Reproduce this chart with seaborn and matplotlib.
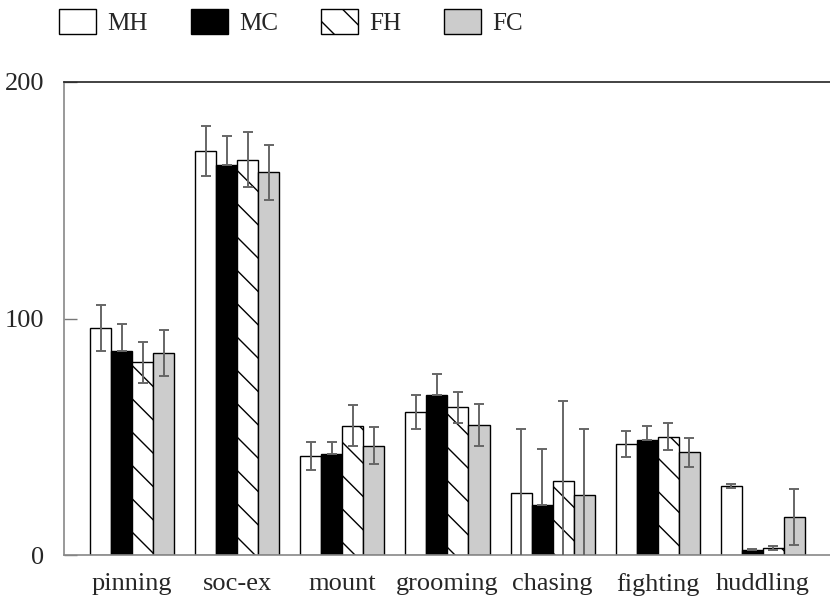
import numpy as np
import pandas as pd
import matplotlib
matplotlib.use("Agg")
import matplotlib.pyplot as plt
import seaborn as sns

categories = ['pinning', 'soc-ex', 'mount', 'grooming', 'chasing', 'fighting', 'huddling']
groups = ['MH', 'MC', 'FH', 'FC']
mh = [96.1, 170.9, 41.9, 60.5, 26.1, 46.9, 29.2]
mh_err = [9.8, 10.6, 6.0, 7.1, 27.2, 5.5, 1.0]
mc = [86.4, 164.8, 42.8, 67.5, 21.2, 48.7, 2.1]
mc_err = [11.3, 12.2, 5.1, 8.9, 23.8, 5.7, 0.6]
fh = [81.5, 167.1, 54.7, 62.4, 31.4, 50.1, 3.0]
fh_err = [8.6, 11.7, 8.7, 6.4, 33.9, 5.7, 0.9]
fc = [85.3, 161.9, 46.3, 55.1, 25.3, 43.5, 16.1]
fc_err = [9.7, 11.6, 8.0, 8.9, 28.0, 6.1, 12.0]
y_ticks = [0, 100, 200]

values = {'MH': mh, 'MC': mc, 'FH': fh, 'FC': fc}
errors = {'MH': mh_err, 'MC': mc_err, 'FH': fh_err, 'FC': fc_err}

rows = []
for g in groups:
    for c, v in zip(categories, values[g]):
        rows.append({'behavior': c, 'group': g, 'value': v})
df = pd.DataFrame(rows)

sns.set_style('white')
plt.rcParams['font.family'] = ['Liberation Serif', 'DejaVu Serif']
plt.rcParams['hatch.linewidth'] = 1.0

fig = plt.figure(figsize=(8.3, 5.98), dpi=100)
ax = fig.add_axes([64 / 830, 43 / 598, (840 - 64) / 830, (555 - 82) / 598])

palette = {'MH': 'white', 'MC': 'black', 'FH': 'white', 'FC': '#cccccc'}
sns.barplot(data=df, x='behavior', y='value', hue='group', order=categories,
            hue_order=groups, palette=palette, edgecolor='black', linewidth=1,
            errorbar=None, width=0.8, saturation=1, ax=ax)

for g, cont in zip(groups, ax.containers):
    for j, bar in enumerate(cont):
        if g == 'FH':
            bar.set_hatch('\\')
        x = bar.get_x() + bar.get_width() / 2
        h = bar.get_height()
        e = errors[g][j]
        yerr = [[0], [e]] if g == 'MC' else [[e], [e]]
        ax.errorbar([x], [h], yerr=yerr, fmt='none', ecolor='#666666',
                    elinewidth=1.4, capsize=3.6, capthick=1.4, zorder=4)

ax.set_ylim(0, 200)
ax.set_xlim(-0.649, 6.735)
ax.set_yticks(y_ticks)
ax.set_yticklabels([str(t) for t in y_ticks])
ax.set_xlabel('')
ax.set_ylabel('')
ax.tick_params(axis='y', direction='in', length=9, width=1, color='#777777',
               pad=14, labelsize=19, left=True)
ax.tick_params(axis='x', length=0, pad=13, labelsize=19)
for s in ['left', 'bottom']:
    ax.spines[s].set_color('#888888')
    ax.spines[s].set_linewidth(1.2)
ax.spines['top'].set_color('#222222')
ax.spines['top'].set_linewidth(1.2)
ax.spines['right'].set_visible(False)

handles, labels = ax.get_legend_handles_labels()
ax.get_legend().remove()
for g, hnd in zip(labels, handles):
    hnd.set_edgecolor('black')
    hnd.set_linewidth(1)
    if g == 'FH':
        hnd.set_hatch('\\')
fig.legend(handles, labels, loc='center left', bbox_to_anchor=(59 / 830, 1 - 22 / 598),
           ncol=4, frameon=False, fontsize=18, handlelength=1.48, handleheight=1.12,
           handletextpad=0.45, columnspacing=1.72, borderpad=0, borderaxespad=0)

fig.savefig('out.png', dpi=100)
